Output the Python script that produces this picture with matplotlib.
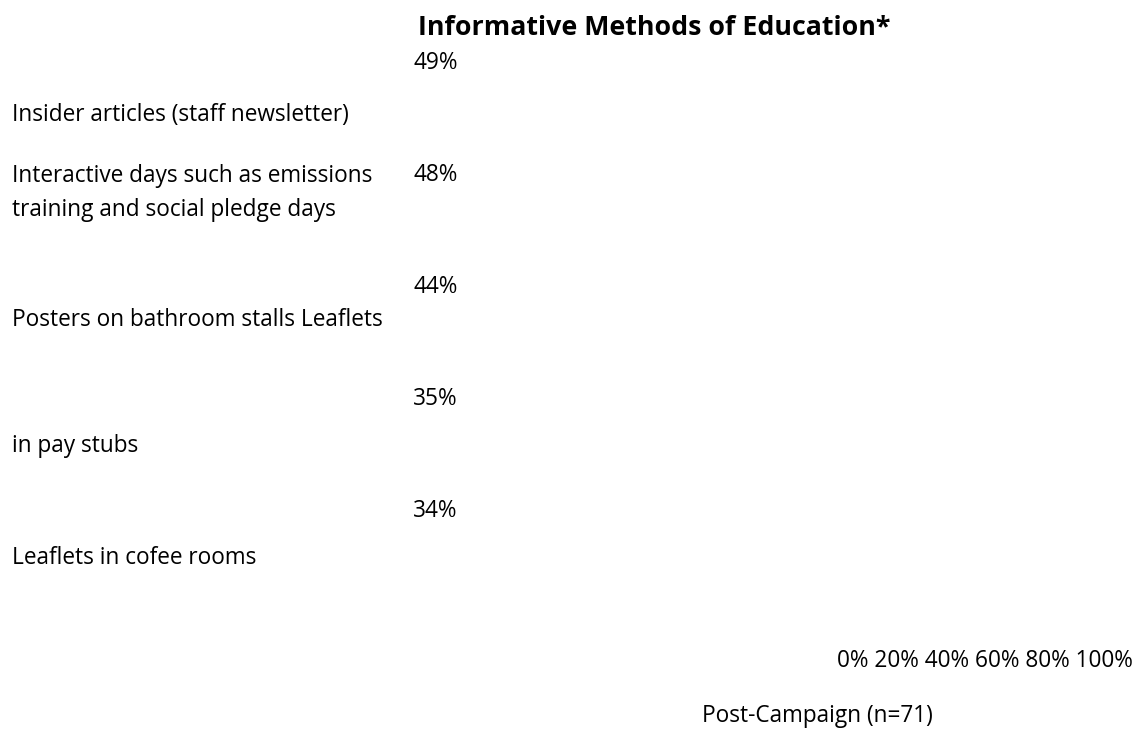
import matplotlib
matplotlib.use("Agg")
import matplotlib.pyplot as plt
import matplotlib.transforms as mtransforms

plt.rcParams["font.family"] = ["Open Sans", "DejaVu Sans"]

# Survey results
categories = [
    "Insider articles (staff newsletter)",
    "Interactive days such as emissions\ntraining and social pledge days",
    "Posters on bathroom stalls Leaflets",
    "in pay stubs",
    "Leaflets in cofee rooms",
]
values = [49, 48, 44, 35, 34]
ticks = [0, 20, 40, 60, 80, 100]
title = "Informative Methods of Education*"
series_name = "Post-Campaign (n=71)"

W, H = 1137, 729
FS = 16.3

fig = plt.figure(figsize=(W / 100, H / 100), dpi=100)

# Rows are 112 px apart; first row centred 62 px from the top
row_h = 112
top = 63 - row_h / 2
ax = fig.add_axes([413 / W, 1 - (top + row_h * len(values)) / H,
                   600 / W, row_h * len(values) / H])
ax.barh(range(len(values)), values, height=0.5, color="none", linewidth=0)
ax.set_xlim(0, 100)
ax.set_ylim(len(values) - 0.5, -0.5)
ax.axis("off")

# Value labels sit at the bar base
for i, v in enumerate(values):
    ax.text(0, i, f"{v}%", ha="left", va="center", fontsize=FS, color="black")

# Category labels, shifted below each value label
label_offsets = [52, 18, 33, 47, 47]
for i, (cat, off) in enumerate(zip(categories, label_offsets)):
    tr = mtransforms.offset_copy(
        mtransforms.blended_transform_factory(fig.transFigure, ax.transData),
        fig=fig, x=0, y=-off * 72 / 100, units="points")
    ax.text(12 / W, i, cat, transform=tr, ha="left", va="center",
            fontsize=FS, color="black", linespacing=1.6)

fig.text(654 / W, 1 - 28 / H, title, ha="center", va="center",
         fontsize=19.3, fontweight="bold", color="black")

fig.text(1133 / W, 1 - 661 / H, " ".join(f"{t}%" for t in ticks),
         ha="right", va="center", fontsize=FS, color="black")

fig.text(817 / W, 1 - 716 / H, series_name, ha="center", va="center",
         fontsize=FS, color="black")

fig.savefig("out.png", dpi=100, facecolor="white")
